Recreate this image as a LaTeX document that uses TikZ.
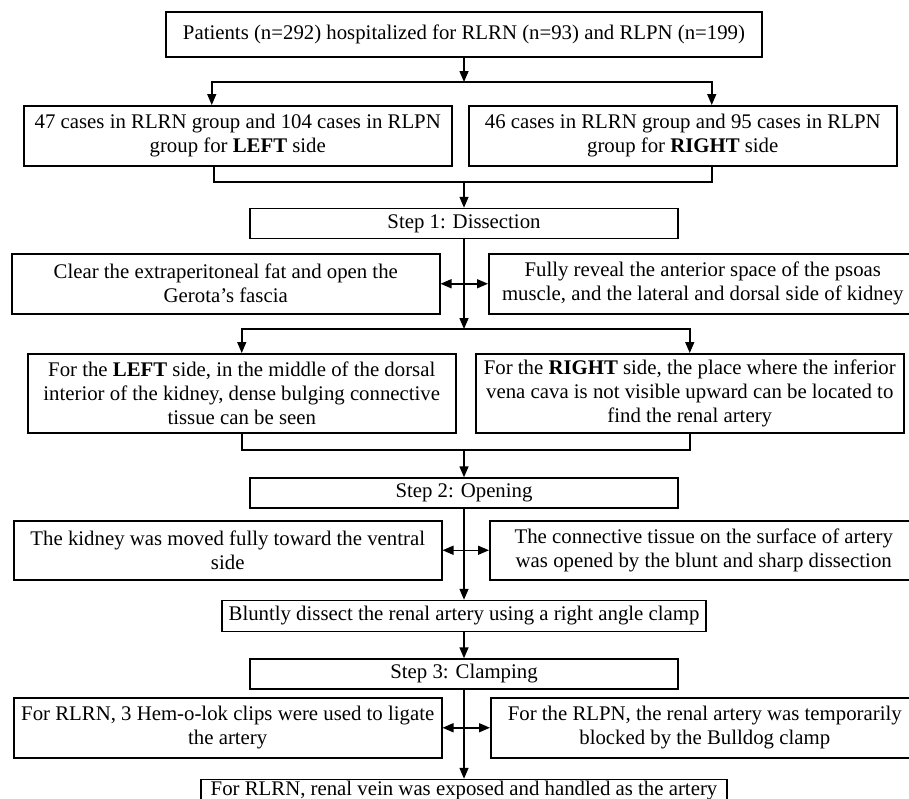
\documentclass[tikz,border=0pt]{standalone}
\usepackage{fontspec}
\setmainfont{Liberation Serif}
\usetikzlibrary{arrows.meta,positioning}

\begin{document}
\begin{tikzpicture}[x=1pt, y=-1pt, auto,
    box/.style={rectangle, draw, line width=1.5pt, inner sep=1pt, align=center,
                font=\fontsize{20.8}{24}\selectfont},
    sidebox/.style={box, anchor=north west, minimum width=428pt},
    arr/.style={-{Triangle[length=11pt,width=9pt]}, line width=1.5pt},
    dbl/.style={{Triangle[length=11pt,width=9pt]}-{Triangle[length=11pt,width=9pt]}, line width=1.5pt}]
    \useasboundingbox (0,0) rectangle (909,798);
    \clip (0,0) rectangle (909,798);

    \node (patients) [box, minimum width=596pt, minimum height=45pt] at (464,34.5) {Patients (n=292) hospitalized for RLRN (n=93) and RLPN (n=199)};
    \node (leftgrp) [sidebox, minimum height=60pt] at (23,105) {47 cases in RLRN group and 104 cases in RLPN\\ group for \textbf{LEFT} side};
    \node (rightgrp) [sidebox, minimum height=60pt] at (468,105) {46 cases in RLRN group and 95 cases in RLPN\\ group for \textbf{RIGHT} side};
    \node (step1) [box, below=150pt of patients, minimum width=428pt, minimum height=30pt] {Step 1: Dissection};
    \node (fat) [sidebox, minimum height=60pt] at (11,253) {Clear the extraperitoneal fat and open the\\ Gerota’s fascia};
    \node (psoas) [sidebox, minimum height=60pt] at (488,253) {Fully reveal the anterior space of the psoas\\ muscle, and the lateral and dorsal side of kidney};
    \node (leftside) [sidebox, minimum height=79pt] at (27,353) {For the \textbf{LEFT} side, in the middle of the dorsal\\ interior of the kidney, dense bulging connective\\ tissue can be seen};
    \node (rightside) [sidebox, minimum height=79pt] at (475,353) {For the \textbf{RIGHT} side, the place where the inferior\\ vena cava is not visible upward can be located to\\ find the renal artery};
    \node (step2) [box, below=238pt of step1, minimum width=428pt, minimum height=30pt] {Step 2: Opening};
    \node (ventral) [sidebox, minimum height=59pt] at (13,520) {The kidney was moved fully toward the ventral\\ side};
    \node (surface) [sidebox, minimum height=59pt] at (489,520) {The connective tissue on the surface of artery\\ was opened by the blunt and sharp dissection};
    \node (blunt) [box, below=91pt of step2, minimum width=484pt, minimum height=31pt] {Bluntly dissect the renal artery using a right angle clamp};
    \node (step3) [box, below=26pt of blunt, minimum width=428pt, minimum height=30pt] {Step 3: Clamping};
    \node (hemolok) [sidebox, minimum height=60pt] at (13,697) {For RLRN, 3 Hem-o-lok clips were used to ligate\\ the artery};
    \node (bulldog) [sidebox, minimum height=60pt] at (490,697) {For the RLPN, the renal artery was temporarily\\ blocked by the Bulldog clamp};
    \node (vein) [box, below=89pt of step3, minimum width=526pt, minimum height=32pt, text depth=14pt] {For RLRN, renal vein was exposed and handled as the artery};

    \coordinate (split1) at (464,82);
    \coordinate (join1) at (464,182);
    \coordinate (split2) at (464,329);
    \coordinate (join2) at (464,450);

    \draw [arr] (patients) -- (split1);
    \draw [arr] (split1) -| ([xshift=-26pt]leftgrp.north);
    \draw [arr] (split1) -| ([xshift=29pt]rightgrp.north);
    \draw [line width=1.5pt] ([xshift=-24pt]leftgrp.south) |- (join1) -| ([xshift=29pt]rightgrp.south);
    \draw [arr] (join1) -- (step1);
    \draw [arr] (step1) -- (split2);
    \draw [dbl] (fat) -- (psoas);
    \draw [arr] (split2) -| (leftside.north);
    \draw [arr] (split2) -| (rightside.north);
    \draw [line width=1.5pt] (leftside.south) |- (join2) -| (rightside.south);
    \draw [arr] (join2) -- (step2);
    \draw [arr] (step2) -- (blunt);
    \draw [dbl] (ventral) -- (surface);
    \draw [arr] (blunt) -- (step3);
    \draw [arr] (step3) -- (vein);
    \draw [dbl] (hemolok) -- (bulldog);
\end{tikzpicture}
\end{document}
